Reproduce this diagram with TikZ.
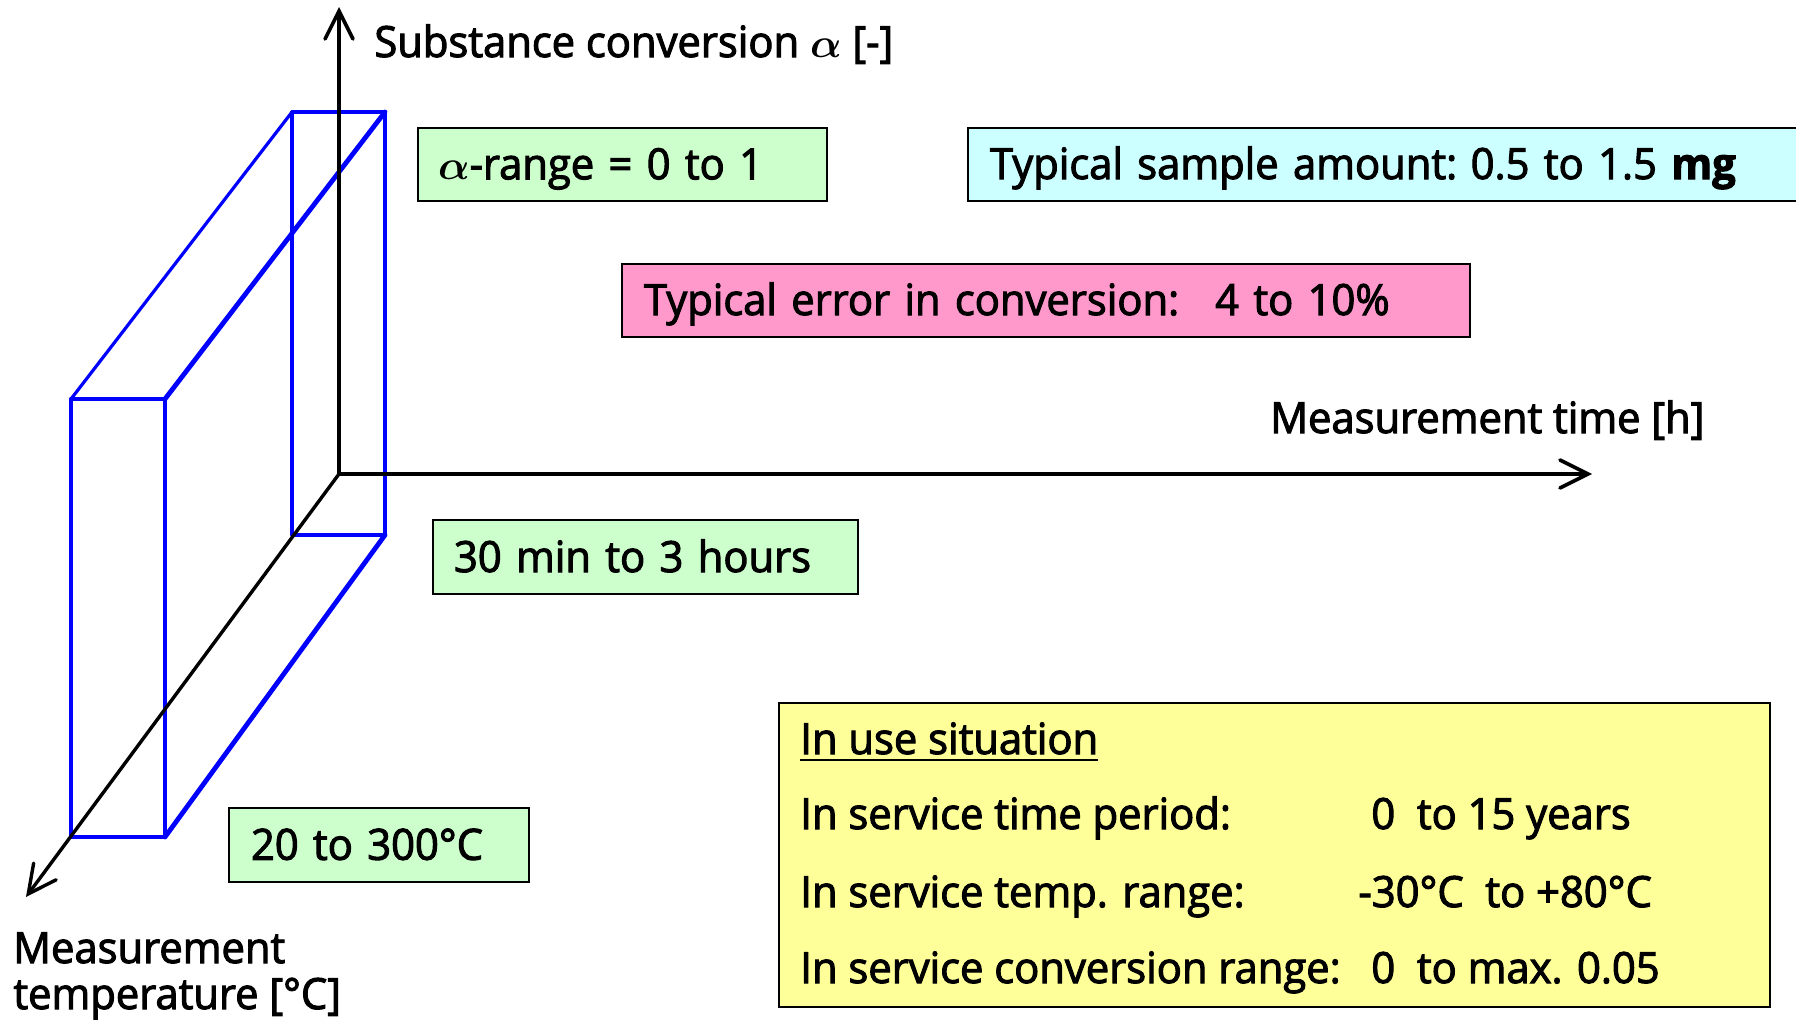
\documentclass[tikz,border=0pt]{standalone}
\usepackage{fontspec}
\setmainfont{Open Sans}[FakeBold=2.4, FakeStretch=0.97]
\usepackage{amsmath,amsbsy}
\usetikzlibrary{arrows.meta}

\definecolor{boxgreen}{HTML}{CCFFCC}
\definecolor{boxcyan}{HTML}{CCFFFF}
\definecolor{boxpink}{HTML}{FF99CC}
\definecolor{boxyellow}{HTML}{FFFF99}
\definecolor{slabblue}{HTML}{0000FF}

\newcommand{\labelfont}{\fontsize{21.5}{26}\selectfont}
\newcommand{\alphasym}{\(\boldsymbol{\alpha}\)}

\tikzset{
  lbl/.style={font=\labelfont, inner sep=0pt, anchor=base west},
  infobox/.style={draw=black, line width=1pt, anchor=north west, font=\labelfont,
    align=left, text height=15pt, text depth=0pt, inner ysep=0pt},
  axisline/.style={line width=1.8pt, line cap=round,
    -{Straight Barb[length=14pt,width=14pt,line cap=round]}},
  slabthin/.style={draw=slabblue, line width=1.6pt, line cap=round, line join=round},
  slabthick/.style={draw=slabblue, line width=2.4pt, line cap=round, line join=round},
}

\begin{document}
\begin{tikzpicture}[x=0.5pt, y=-0.5pt]
  \useasboundingbox (0,0) rectangle (1796,1023);

  % axis end points
  \coordinate (O)  at (339,474);
  \coordinate (Ay) at (339,7);
  \coordinate (Ax) at (1592,474);
  \coordinate (Az) at (26,897);

  % measurement window: back face, front face and connecting edges
  \coordinate (b1) at (292,112);  \coordinate (b2) at (385,112);
  \coordinate (b3) at (385,535);  \coordinate (b4) at (292,535);
  \coordinate (f1) at (71,399);   \coordinate (f2) at (165,399);
  \coordinate (f3) at (165,837);  \coordinate (f4) at (71,837);

  \draw[slabthin] (b4) -- (b1) -- (b2) -- (b3) -- cycle;
  \draw[slabthin] (f1) -- (b1);
  \draw[slabthick] (f2) -- (b2);
  \draw[slabthick] (f3) -- (b3);
  \draw[slabthick] (f1) -- (f2) -- (f3) -- (f4) -- cycle;

  % axes
  \draw[axisline] (O) -- (Ay);
  \draw[axisline] (O) -- (Ax);
  \draw[axisline, line width=1.7pt] (O) -- (Az);

  % axis titles
  \node[lbl] (ylabel) at (374,57) {Substance conversion \alphasym{} [-]};
  \node[lbl] (xlabel) at (1270,433) {Measurement time [h]};
  \node[lbl] (zlabel1) at (13,963) {Measurement};
  \node[lbl] (zlabel2) at (13,1009) {temperature [°C]};

  % info boxes
  \node[infobox, fill=boxgreen, minimum width=204.5pt, minimum height=36.75pt,
        inner xsep=10pt, text width=184.5pt] (alpharange) at (417,126.5)
        {\alphasym-range = 0 to 1};
  \node[infobox, fill=boxcyan, minimum width=421.5pt, minimum height=36.5pt,
        inner xsep=11pt, text width=399.5pt] (sample) at (967,126.5)
        {Typical sample amount:\hspace{-4pt} 0.5 to 1.5 \textbf{mg}};
  \node[infobox, fill=boxpink, minimum width=424pt, minimum height=36.5pt,
        inner xsep=11pt, text width=402pt] (error) at (621,262.5)
        {Typical error in conversion:\hspace{18pt}4 to 10\%};
  \node[infobox, fill=boxgreen, minimum width=212.5pt, minimum height=37pt,
        inner xsep=10.5pt, text width=191.5pt] (timerange) at (432,519)
        {30 min to 3 hours};
  \node[infobox, fill=boxgreen, minimum width=150pt, minimum height=36.75pt,
        inner xsep=11pt, text width=128pt] (temprange) at (228,807)
        {20 to 300°C};

  % in-use panel
  \node[draw=black, line width=1pt, fill=boxyellow, anchor=north west,
        minimum width=495.5pt, minimum height=152.25pt, inner sep=0pt]
        (inuse) at (778,701.5) {};
  \node[lbl] (inusehead) at (800,754) {\underline{In use situation}};
  \node[lbl] (row1) at (800,829) {In service time period:};
  \node[lbl] (row2) at (800,907) {In service temp. range:};
  \node[lbl] (row3) at (800,983) {In service conversion range:};
  \node[lbl] (val1) at (1371,829) {0\ \ to 15 years};
  \node[lbl] (val2) at (1358,907) {-30°C\ \ to +80°C};
  \node[lbl] (val3) at (1371,983) {0\ \ to max. 0.05};
\end{tikzpicture}
\end{document}
